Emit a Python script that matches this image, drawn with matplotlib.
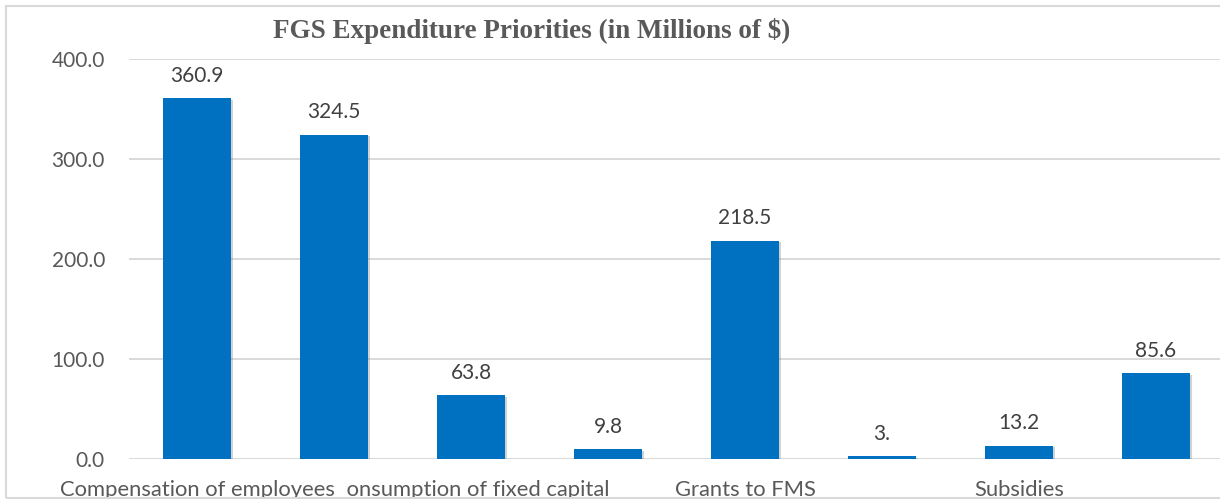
import matplotlib
matplotlib.use("Agg")
import matplotlib.pyplot as plt
import matplotlib.patheffects as pe
from matplotlib.patches import Rectangle
from matplotlib.transforms import offset_copy
import numpy as np

# Expenditure categories (every other one is labelled on the axis)
categories = [
    "Compensation of employees",
    "Use of goods and services",
    "Consumption of fixed capital",
    "Interest",
    "Grants to FMS",
    "Social benefits",
    "Subsidies",
    "Other expenses",
]
values = [360.9, 324.5, 63.8, 9.8, 218.5, 3.0, 13.2, 85.6]
value_labels = ["360.9", "324.5", "63.8", "9.8", "218.5", "3.", "13.2", "85.6"]
y_ticks = [0, 100, 200, 300, 400]
title = "FGS Expenditure Priorities (in Millions of $)"

W, H = 1220, 499
fig = plt.figure(figsize=(W / 100, H / 100), dpi=100)
fig.patch.set_facecolor("white")

ax = fig.add_axes([128.5 / W, (H - 459) / H, 1096 / W, 400 / H])
x = np.arange(len(categories))

bar_color = "#0070C0"
bars = ax.bar(x, values, width=0.5, color=bar_color, zorder=3)
for b in bars:
    b.set_path_effects([
        pe.SimplePatchShadow(offset=(1.2, -1.2), shadow_rgbFace="#7f7f7f", alpha=0.35),
        pe.Normal(),
    ])

ax.set_xlim(-0.5, len(categories) - 0.5)
ax.set_ylim(0, 400)
ax.set_yticks(y_ticks)
ax.set_yticklabels([f"{t:.1f}" for t in y_ticks])
ax.yaxis.grid(True, color="#D9D9D9", linewidth=1.4, zorder=0)
ax.set_axisbelow(True)
for s in ax.spines.values():
    s.set_visible(False)
ax.tick_params(axis="y", length=0, pad=17, labelsize=15, labelcolor="#595959")
for lbl in ax.get_yticklabels():
    lbl.set_fontfamily("Lato")
ax.set_xticks([])

# value labels above bars
for xi, v, txt in zip(x, values, value_labels):
    ax.annotate(txt, (xi, v), xytext=(0, 9), textcoords="offset points",
                ha="center", va="bottom", fontsize=15, color="#404040",
                family="Lato", zorder=5)

# category labels below the axis (every second category)
lab_trans = offset_copy(ax.get_xaxis_transform(), fig=fig, x=0, y=-21 / 100 * 72, units="points")
for i in range(0, len(categories), 2):
    t = ax.text(x[i], 0, categories[i], transform=lab_trans, ha="center", va="top",
                fontsize=15.8, color="#595959", family="Lato", clip_on=False,
                zorder=10 - i)
    if i == 0:
        t.set_bbox(dict(facecolor="white", edgecolor="none", pad=8.5))

fig.text(531.5 / W, (H - 37.7) / H, title, ha="center", va="baseline",
         fontsize=19.5, fontweight="bold", family="Liberation Serif", color="#595959")

# white strip below the frame, then the chart frame
fig.patches.append(Rectangle((0, 0), 1, 1.5 / H, transform=fig.transFigure,
                             facecolor="white", edgecolor="none", zorder=20))
fig.patches.append(Rectangle((5.5 / W, 1.5 / H), 1.2, (H - 6 - 1.5) / H,
                             transform=fig.transFigure, facecolor="none",
                             edgecolor="#D9D9D9", linewidth=1.5, zorder=21))

fig.savefig("out.png", dpi=100)
